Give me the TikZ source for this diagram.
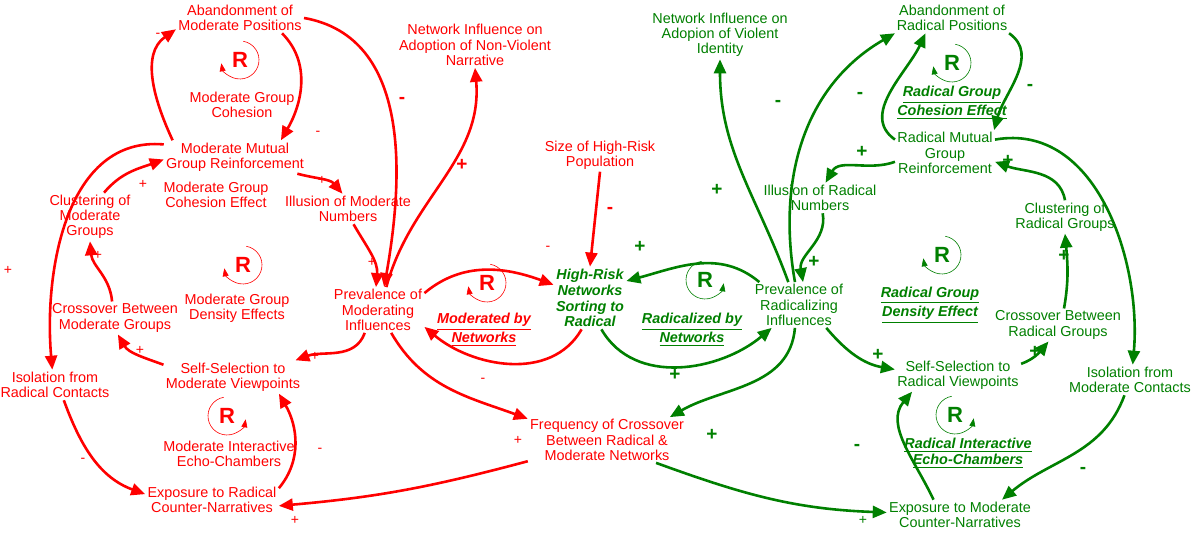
\documentclass[tikz,border=0pt]{standalone}
\usepackage{fontspec}
\setmainfont{Liberation Sans}
\usetikzlibrary{arrows.meta}
\definecolor{cr}{RGB}{255,0,0}
\definecolor{cg}{RGB}{0,128,0}
\begin{document}
\begin{tikzpicture}[x=0.5pt,y=0.5pt,
  v/.style={align=center,inner sep=1pt,font=\fontsize{7.2}{7.6}\selectfont},
  rv/.style={v,text=cr}, gv/.style={v,text=cg},
  lab/.style={align=center,inner sep=1pt,font=\fontsize{7.2}{7.9}\selectfont\bfseries\itshape},
  ra/.style={cr,line width=1.3pt,-{Triangle[length=7pt,width=6pt]}},
  ga/.style={cg,line width=1.3pt,-{Triangle[length=7pt,width=6pt]}},
  sg/.style={inner sep=0pt,font=\fontsize{7}{7}\selectfont},
  bs/.style={inner sep=0pt,font=\fontsize{9.5}{9}\selectfont\bfseries},
  rsym/.style={inner sep=0pt,font=\fontsize{11}{11}\selectfont\bfseries}]
\path[use as bounding box,fill=white] (0,0) rectangle (1200,539);
% R loop symbols
\newcommand{\loopL}[3]{\node[rsym,text=#2] (#3) at (#1) {R};
  \draw[#2,line width=0.3pt,-{Triangle[length=4pt,width=3pt]}] (#1) ++(80:19) arc (80:-170:19);}
\newcommand{\loopR}[3]{\node[rsym,text=#2] (#3) at (#1) {R};
  \draw[#2,line width=0.3pt,-{Triangle[length=4pt,width=3pt]}] (#1) ++(100:19) arc (100:350:19);}
\loopL{240,479}{cr}{R1}
\loopL{243,274}{cr}{R2}
\loopR{227,123}{cr}{R3}
\loopL{487,256}{cr}{R4}
\loopL{952,476}{cg}{R5}
\loopR{705,259}{cg}{R6}
\loopL{942,284}{cg}{R7}
\loopR{955,124}{cg}{R8}
% red nodes
\node[rv] (AbM) at (240,521) {Abandonment of\\Moderate Positions};
\node[rv] (NIN) at (475,494) {Network Influence on\\Adoption of Non-Violent\\Narrative};
\node[rv] (MGC) at (242,434) {Moderate Group\\Cohesion};
\node[rv] (MMG) at (235,382) {Moderate Mutual\\Group Reinforcement};
\node[rv] (MGCE) at (216,344) {Moderate Group\\Cohesion Effect};
\node[rv] (IMN) at (348,330) {Illusion of Moderate\\Numbers};
\node[rv] (ClM) at (90,322) {Clustering of\\Moderate\\Groups};
\node[rv] (MGDE) at (237,231) {Moderate Group\\Density Effects};
\node[rv] (PMI) at (378,229) {Prevalence of\\Moderating\\Influences};
\node[rv] (CBM) at (115,221) {Crossover Between\\Moderate Groups};
\node[rv] (SSM) at (233,162) {Self-Selection to\\Moderate Viewpoints};
\node[rv] (IRC) at (55,154) {Isolation from\\Radical Contacts};
\node[rv] (MIEC) at (229,85) {Moderate Interactive\\Echo-Chambers};
\node[rv] (ERC) at (212,39) {Exposure to Radical\\Counter-Narratives};
\node[lab,text=cr] (MBN) at (484,209) {\underline{Moderated by}\\\underline{Networks}};
\node[rv] (SHR) at (600,384) {Size of High-Risk\\Population};
\node[lab,text=cg] (HRN) at (590,241) {High-Risk\\Networks\\Sorting to\\Radical};
\node[rv] (FC) at (607,99) {Frequency of Crossover\\Between Radical \&\\Moderate Networks};
% green nodes
\node[gv] (NIV) at (720,504) {Network Influence on\\Adopion of Violent\\Identity};
\node[gv] (AbR) at (952,521) {Abandonment of\\Radical Positions};
\node[lab,text=cg] (RGCE) at (952,436) {\underline{Radical Group}\\\underline{Cohesion Effect}};
\node[gv] (RMG) at (945,386) {Radical Mutual\\Group\\Reinforcement};
\node[gv] (IRN) at (820,341) {Illusion of Radical\\Numbers};
\node[gv] (PRI) at (799,234) {Prevalence of\\Radicalizing\\Influences};
\node[lab,text=cg] (RBN) at (692,209) {\underline{Radicalized by}\\\underline{Networks}};
\node[gv] (ClR) at (1065,322) {Clustering of\\Radical Groups};
\node[lab,text=cg] (RGDE) at (930,234) {\underline{Radical Group}\\\underline{Density Effect}};
\node[gv] (CBR) at (1058,214) {Crossover Between\\Radical Groups};
\node[gv] (SSR) at (958,164) {Self-Selection to\\Radical Viewpoints};
\node[gv] (IMC) at (1130,159) {Isolation from\\Moderate Contacts};
\node[lab,text=cg] (RIEC) at (968,86) {\underline{Radical Interactive}\\\underline{Echo-Chambers}};
\node[gv] (EMC) at (960,24) {Exposure to Moderate\\Counter-Narratives};
% red arrows
\draw[ra] (MMG.165) to[out=115,in=215] (AbM.190);
\draw[ra] (AbM.-20) to[out=-45,in=60] (MMG.20);
\draw[ra] (AbM.east) to[out=-10,in=80] (PMI.75);
\draw[ra] (PMI.70) to[out=75,in=-85] (NIN.south);
\draw[ra] (MMG.-15) to[out=-15,in=130] (IMN.110);
\draw[ra] (IMN.-70) to[out=-60,in=85] (PMI.95);
\draw[ra] (ClM.60) to[out=50,in=200] (MMG.182);
\draw[ra] (CBM.100) to[out=95,in=-85] (ClM.south);
\draw[ra] (SSM.170) to[out=160,in=-60] (CBM.-80);
\draw[ra] (PMI.-120) to[out=-110,in=20] (SSM.15);
\draw[ra] (MMG.170) to[out=175,in=95] (IRC.100);
\draw[ra] (IRC.-60) to[out=-70,in=160] (ERC.175);
\draw[ra] (ERC.10) to[out=50,in=-60] (SSM.-20);
\draw[ra] (FC.-165) to[out=-165,in=5] (ERC.-5);
\draw[ra] (PMI.-60) to[out=-60,in=160] (FC.165);
\draw[ra] (PMI.20) to[out=40,in=160] (HRN.160);
\draw[ra] (HRN.-105) to[out=-120,in=-40] (PMI.-20);
\draw[ra] (SHR.south) -- (HRN.north);
% green arrows
\draw[ga] (HRN.-70) to[out=-60,in=-140] (PRI.-140);
\draw[ga] (PRI.150) to[out=140,in=15] (HRN.25);
\draw[ga] (PRI.115) to[out=110,in=-90] (NIV.south);
\draw[ga] (PRI.100) to[out=100,in=210] (AbR.195);
\draw[ga] (RMG.165) to[out=145,in=245] (AbR.-150);
\draw[ga] (AbR.-15) to[out=-35,in=75] (RMG.25);
\draw[ga] (RMG.190) to[out=200,in=60] (IRN.70);
\draw[ga] (IRN.-80) to[out=-80,in=100] (PRI.80);
\draw[ga] (ClR.north) to[out=100,in=-20] (RMG.-10);
\draw[ga] (RMG.15) to[out=10,in=85] (IMC.80);
\draw[ga] (CBR.70) to[out=80,in=-85] (ClR.south);
\draw[ga] (SSR.10) to[out=20,in=-130] (CBR.-120);
\draw[ga] (PRI.-40) to[out=-50,in=170] (SSR.175);
\draw[ga] (PRI.-100) to[out=-95,in=30] (FC.20);
\draw[ga] (IMC.-110) to[out=-110,in=40] (EMC.20);
\draw[ga] (EMC.150) to[out=115,in=-130] (SSR.-160);
\draw[ga] (FC.-25) to[out=-20,in=178] (EMC.178);
% red signs
\begin{scope}[text=cr]
\node[sg] (s1) at (158,504) {-};
\node[sg] (s2) at (318,406) {-};
\node[bs] (s3) at (402,439) {-};
\node[bs] (s4) at (462,374) {+};
\node[sg] (s5) at (322,359) {+};
\node[sg] (s6) at (372,277) {+};
\node[sg] (s7) at (143,355) {+};
\node[sg] (s8) at (98,284) {+};
\node[sg] (s9) at (140,189) {+};
\node[sg] (s10) at (315,183) {+};
\node[sg] (s11) at (8,269) {+};
\node[sg] (s12) at (83,79) {-};
\node[sg] (s13) at (320,89) {-};
\node[sg] (s14) at (295,19) {+};
\node[sg] (s15) at (518,99) {+};
\node[sg] (s16) at (548,291) {-};
\node[sg] (s17) at (483,159) {-};
\node[bs] (s18) at (610,329) {-};
\end{scope}
\begin{scope}[text=cg]
\node[bs] (g1) at (675,164) {+};
\node[bs] (g2) at (640,292) {+};
\node[bs] (g3) at (717,349) {+};
\node[bs] (g4) at (778,436) {-};
\node[bs] (g5) at (860,444) {-};
\node[bs] (g6) at (1030,452) {-};
\node[bs] (g7) at (862,387) {+};
\node[bs] (g8) at (814,277) {+};
\node[bs] (g9) at (1008,378) {+};
\node[bs] (g10) at (1064,283) {+};
\node[bs] (g11) at (1035,187) {+};
\node[bs] (g12) at (878,184) {+};
\node[bs] (g13) at (712,104) {+};
\node[bs] (g14) at (1083,69) {-};
\node[bs] (g15) at (857,92) {-};
\node[sg] (g16) at (863,19) {+};
\end{scope}
\end{tikzpicture}
\end{document}
